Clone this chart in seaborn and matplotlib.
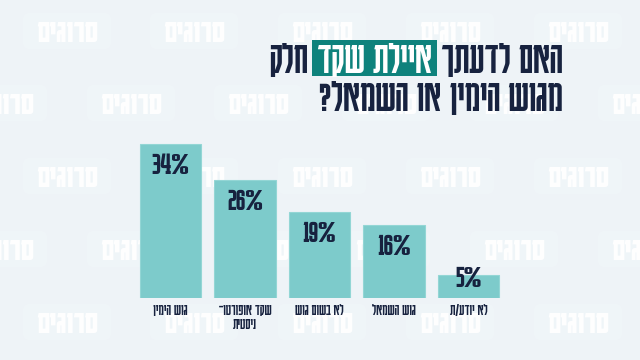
import matplotlib
matplotlib.use("Agg")
import matplotlib.pyplot as plt
from matplotlib.patches import Rectangle, FancyBboxPatch
import seaborn as sns
import pandas as pd

# ---- data ----
categories = ["גוש הימין", "שקד אופורטו־\nניסטית", "לא בשום גוש", "גוש השמאל", "לא יודע/ת"]
values = [34, 26, 19, 16, 5]
value_labels = ["34%", "26%", "19%", "16%", "5%"]
title_line1_start = "האם לדעתך"
title_highlight = "איילת שקד"
title_line1_end = "חלק"
title_line2 = "מגוש הימין או השמאל?"
watermark = "סרוגים"

W, H = 640, 360
BG = "#eef3f7"
BAR = "#7dcbcb"
NAVY = "#17223f"
TEAL = "#0e827c"


def rtl(s):
    return "\n".join(line[::-1] for line in s.split("\n"))


sns.set_style("white")
plt.rcParams["font.family"] = ["Karantina", "DejaVu Sans"]

fig = plt.figure(figsize=(6.4, 3.6), dpi=100, facecolor=BG)

# background axes with watermarks
bgax = fig.add_axes([0, 0, 1, 1], zorder=-1)
bgax.set_xlim(0, W)
bgax.set_ylim(H, 0)
bgax.axis("off")
bgax.set_facecolor(BG)
rowsA = [31, 176, 322]
rowsB = [103, 249]
xsA = [67, 194, 322, 450, 578]
xsB = [3, 131, 258, 386, 514, 642]
pos = [(x, y) for y in rowsA for x in xsA] + [(x, y) for y in rowsB for x in xsB]
for x, y in pos:
    bgax.add_patch(FancyBboxPatch((x - 44, y - 18), 88, 36, boxstyle="round,pad=0,rounding_size=7",
                                  fc="#f3f9fb", ec="none", alpha=0.4, zorder=1))
    bgax.text(x, y + 1, rtl(watermark), ha="center", va="center", fontsize=24, fontweight="bold",
              color="white", alpha=0.95, zorder=2)

# bar axes
ax = fig.add_axes([133.25 / W, 62 / H, 372.5 / W, 181.6 / H], zorder=1)
ax.patch.set_alpha(0)
df = pd.DataFrame({"cat": [rtl(c) for c in categories], "val": values})
sns.barplot(data=df, x="cat", y="val", color=BAR, width=0.82, saturation=1,
            edgecolor="#93d6d5", linewidth=0.8, ax=ax)
ax.set_xlim(-0.5, 4.5)
ax.set_ylim(0, 40)
sns.despine(ax=ax, left=True, bottom=True)
ax.set_yticks([])
ax.set_xlabel("")
ax.set_ylabel("")
ax.tick_params(axis="x", length=0, pad=4.5, labelsize=11.5, labelcolor=NAVY)
for lab in ax.get_xticklabels():
    lab.set_linespacing(1.05)
    lab.set_fontweight(400)
for i, (v, l) in enumerate(zip(values, value_labels)):
    ax.text(i, max(v - 6.6, 2.4), l, ha="center", va="baseline", fontsize=24, fontweight=400, color=NAVY)

# title overlay
tax = fig.add_axes([0, 0, 1, 1], zorder=5)
tax.set_xlim(0, W)
tax.set_ylim(H, 0)
tax.axis("off")
tax.patch.set_alpha(0)
renderer = fig.canvas.get_renderer()
TS = 33
xr = 563
t1 = tax.text(xr, 73, rtl(title_line1_start), ha="right", va="baseline", fontsize=TS, color=NAVY)
w1 = t1.get_window_extent(renderer).width
xb_right = xr - w1 - 4
t2 = tax.text(xb_right - 5, 73, rtl(title_highlight), ha="right", va="baseline", fontsize=TS, color="white", zorder=3)
w2 = t2.get_window_extent(renderer).width
xb_left = xb_right - 5 - w2 - 5
tax.add_patch(Rectangle((xb_left, 40), xb_right - xb_left, 36, fc=TEAL, ec="none", zorder=2))
tax.text(xb_left - 4, 73, rtl(title_line1_end), ha="right", va="baseline", fontsize=TS, color=NAVY)
tax.text(xr, 111, rtl(title_line2), ha="right", va="baseline", fontsize=TS, color=NAVY)

fig.savefig("out.png", dpi=100, facecolor=BG)
